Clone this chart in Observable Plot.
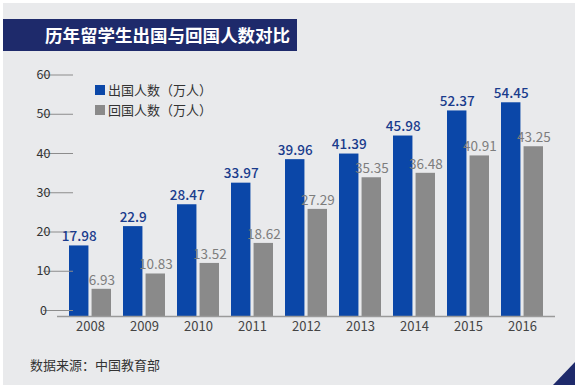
<!DOCTYPE html>
<html>
<head>
<meta charset="utf-8">
<script src="https://cdn.jsdelivr.net/npm/d3@7"></script>
<script src="https://cdn.jsdelivr.net/npm/@observablehq/plot@0.6"></script>
<style>
  html, body { margin: 0; padding: 0; background: #ffffff; }
  #wrap { position: relative; width: 580px; height: 388px; background: #ffffff; overflow: hidden;
          font-family: "Noto Sans CJK SC", "Noto Sans", sans-serif; }
  #panel { position: absolute; left: 3px; top: 3px; width: 572px; height: 382px; background: #e9eaec; }
  #title { position: absolute; left: 3px; top: 19px; width: 294px; height: 32px; background: #1e2a6b;
           color: #ffffff; font-weight: bold; font-size: 17.5px; line-height: 32px; padding-left: 42px;
           box-sizing: border-box; letter-spacing: 0px; }
  #legend { position: absolute; left: 95px; top: 80px; font-size: 13px; color: #333; line-height: 20px; }
  #legend .row { display: flex; align-items: center; height: 20px; }
  #legend .sw { display: inline-block; width: 10px; height: 10px; margin-right: 3px; }
  #caption { position: absolute; left: 30px; top: 355px; font-size: 13px; color: #333; }
  #corner { position: absolute; left: 553px; top: 362px; width: 22px; height: 23px; background: #1e2a6b;
            clip-path: polygon(100% 0, 100% 100%, 0 100%); }
  #chart { position: absolute; left: 0; top: 0; }
</style>
</head>
<body>
<div id="wrap">
  <div id="panel"></div>
  <div id="chart"></div>
  <div id="title"></div>
  <div id="legend"></div>
  <div id="caption"></div>
  <div id="corner"></div>
</div>
<script>
// ---- data ----
const titleText = "历年留学生出国与回国人数对比";
const captionText = "数据来源：中国教育部";
const years = ["2008", "2009", "2010", "2011", "2012", "2013", "2014", "2015", "2016"];
const outbound = [17.98, 22.9, 28.47, 33.97, 39.96, 41.39, 45.98, 52.37, 54.45];
const returned = [6.93, 10.83, 13.52, 18.62, 27.29, 35.35, 36.48, 40.91, 43.25];
const seriesNames = ["出国人数（万人）", "回国人数（万人）"];
const seriesColors = ["#0b47a8", "#8a8a8a"];
const labelColors = ["#1a3c8c", "#7d7d7d"];
const yTicks = [0, 10, 20, 30, 40, 50, 60];

const outData = years.map((y, i) => ({year: y, value: outbound[i]}));
const backData = years.map((y, i) => ({year: y, value: returned[i]}));

// ---- layout ----
const W = 580, H = 388;
const mL = 57, mR = 25, mT = 80.5, mB = 72;
const pInner = 0.22, pOuter = 0.22;
const step = (W - mL - mR) / (years.length - pInner + 2 * pOuter);
const bw = step * (1 - pInner);
const gap = 3;
const half = bw / 2 + gap / 2;       // inset to keep one half of the band
const shift = bw / 4 + gap / 4;      // label offset to center on each half

const font = '"Noto Sans CJK SC", "Noto Sans", sans-serif';

const chart = Plot.plot({
  width: W,
  height: H,
  marginLeft: mL,
  marginRight: mR,
  marginTop: mT,
  marginBottom: mB,
  style: {background: "transparent", fontFamily: font, overflow: "visible"},
  x: {type: "band", domain: years, paddingInner: pInner, paddingOuter: pOuter, label: null},
  y: {domain: [0, 60], label: null},
  marks: [
    Plot.barY(outData, {x: "year", y: "value", fill: seriesColors[0], insetRight: half}),
    Plot.barY(backData, {x: "year", y: "value", fill: seriesColors[1], insetLeft: half}),
    Plot.ruleY([0], {stroke: "#9a9a9a", strokeWidth: 1.5}),
    Plot.axisY({ticks: yTicks, tickSize: 30, tickPadding: 0, textAnchor: "middle", dx: 16, dy: -6,
                fontSize: 12.5, fill: "#333", stroke: "#8c8c8c", strokeWidth: 1, label: null}),
    Plot.axisX({tickSize: 0, tickPadding: 5, fontSize: 13, fill: "#444", label: null}),
    Plot.text(outData, {x: "year", y: "value", text: d => String(d.value), dx: -shift, dy: -9,
                        fill: labelColors[0], fontSize: 13.5, fontWeight: 500}),
    Plot.text(backData, {x: "year", y: "value", text: d => String(d.value), dx: shift, dy: -9,
                         fill: labelColors[1], fontSize: 13.5})
  ]
});
document.getElementById("chart").appendChild(chart);

document.getElementById("title").textContent = titleText;
document.getElementById("caption").textContent = captionText;
const legend = document.getElementById("legend");
seriesNames.forEach((name, i) => {
  const row = document.createElement("div");
  row.className = "row";
  const sw = document.createElement("span");
  sw.className = "sw";
  sw.style.background = seriesColors[i];
  const t = document.createElement("span");
  t.textContent = name;
  row.appendChild(sw);
  row.appendChild(t);
  legend.appendChild(row);
});
</script>
</body>
</html>
